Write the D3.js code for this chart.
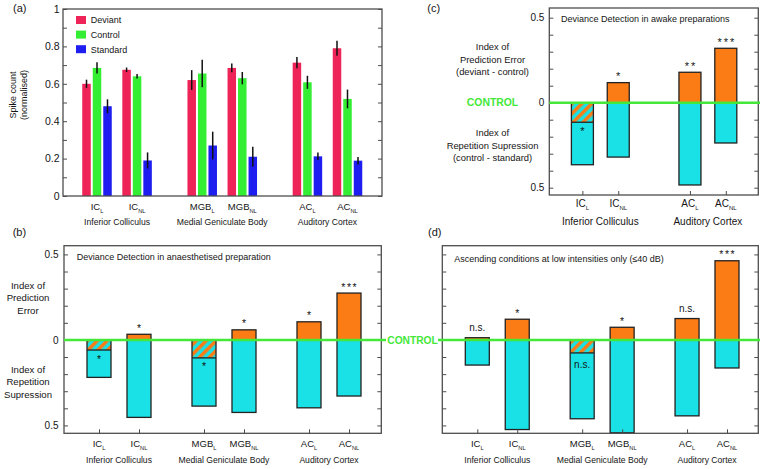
<!DOCTYPE html>
<html><head><meta charset="utf-8">
<script src="https://cdn.jsdelivr.net/npm/d3@7"></script>
<style>
body{margin:0;background:#fff;}
svg text{font-family:"Liberation Sans",Arial,Helvetica,sans-serif;fill:#151515;}
</style></head><body>
<svg id="chart" width="760" height="469"></svg>
<script>
// ---------------- DATA ----------------
const regions = ["Inferior Colliculus", "Medial Geniculate Body", "Auditory Cortex"];
const catBase = ["IC", "IC", "MGB", "MGB", "AC", "AC"];
const catSub = ["L", "NL", "L", "NL", "L", "NL"];
const catRegion = [0, 0, 1, 1, 2, 2];

// panel (a): normalised spike counts
const seriesNames = ["Deviant", "Control", "Standard"];
const deviant = [0.60, 0.675, 0.62, 0.685, 0.713, 0.79];
const deviantErr = [0.022, 0.012, 0.053, 0.023, 0.03, 0.04];
const control = [0.685, 0.64, 0.655, 0.63, 0.608, 0.519];
const controlErr = [0.03, 0.012, 0.073, 0.033, 0.035, 0.05];
const standard = [0.48, 0.19, 0.27, 0.21, 0.212, 0.189];
const standardErr = [0.037, 0.043, 0.074, 0.053, 0.02, 0.02];
const aTicks = [0, 0.2, 0.4, 0.6, 0.8, 1];

// panel (b): anaesthetised
const peB = [-0.059, 0.033, -0.105, 0.059, 0.106, 0.274];
const rsB = [0.219, 0.453, 0.387, 0.424, 0.397, 0.328];
const sigB = ["*", "*", "*", "*", "*", "***"];

// panel (c): awake (IC and AC only)
const catsC = [0, 1, 4, 5];
const peC = [-0.115, 0.118, 0.179, 0.32];
const rsC = [0.365, 0.32, 0.484, 0.237];
const sigC = ["*", "*", "**", "***"];

// panel (d): ascending, low intensities
const peD = [0.013, 0.121, -0.076, 0.074, 0.125, 0.463];
const rsD = [0.147, 0.524, 0.461, 0.543, 0.444, 0.164];
const sigD = ["n.s.", "*", "n.s.", "*", "n.s.", "***"];

const idxTicks = [-0.5, 0, 0.5];

// ---------------- STYLE ----------------
const COL = {dev: "#ee2357", ctrl: "#33ee33", std: "#1e1ef0", orange: "#fb7b14",
  cyan: "#19e1e6", green: "#44e838", frame: "#4d4d4d", outline: "#222"};

const svg = d3.select("#chart");
const defs = svg.append("defs");
const pat = defs.append("pattern").attr("id", "hatch").attr("patternUnits", "userSpaceOnUse")
  .attr("width", 7).attr("height", 7).attr("patternTransform", "rotate(45)");
pat.append("rect").attr("width", 7).attr("height", 7).attr("fill", COL.cyan);
pat.append("rect").attr("width", 3.5).attr("height", 7).attr("fill", COL.orange);

const minorTicks = d3.range(-5, 6).map(d => d / 10);

function frame(g, x0, x1, y0, y1) {
  g.append("rect").attr("x", x0).attr("y", y0).attr("width", x1 - x0).attr("height", y1 - y0)
    .attr("fill", "none").attr("stroke", COL.frame).attr("stroke-width", 1.3);
}
function styleAxis(sel, fs) {
  sel.select(".domain").remove();
  sel.selectAll(".tick line").attr("stroke", COL.frame).attr("stroke-width", 1);
  sel.selectAll(".tick text").attr("font-size", fs).attr("fill", "#151515")
    .attr("font-family", '"Liberation Sans", Arial, sans-serif');
}
function yAxes(g, y, x0, x1, tickVals, labelVals, fmt, pad, fs) {
  const isLab = d => labelVals.some(v => Math.abs(v - d) < 1e-9);
  g.append("g").attr("transform", `translate(${x0},0)`)
    .call(d3.axisLeft(y).tickValues(tickVals).tickSize(-4).tickSizeOuter(0).tickPadding(pad)
      .tickFormat(d => isLab(d) ? fmt(d) : ""))
    .call(s => styleAxis(s, fs));
  g.append("g").attr("transform", `translate(${x1},0)`)
    .call(d3.axisRight(y).tickValues(tickVals).tickSize(-4).tickSizeOuter(0).tickFormat(""))
    .call(s => styleAxis(s, fs));
}
function catLabel(g, x, yb, i, fs) {
  const t = g.append("text").attr("x", x).attr("y", yb).attr("text-anchor", "middle").attr("font-size", fs);
  t.append("tspan").text(catBase[i]);
  t.append("tspan").attr("font-size", fs * 0.6).attr("dy", 3).text(catSub[i]);
}
function groupLabels(g, xs, idx, yb, fs) {
  regions.forEach((r, k) => {
    const members = idx.map((c, j) => [c, j]).filter(([c]) => catRegion[c] === k);
    if (!members.length) return;
    const cx = d3.mean(members, ([c, j]) => xs[j]);
    g.append("text").attr("x", cx).attr("y", yb).attr("text-anchor", "middle").attr("font-size", fs).text(r);
  });
}
// layout position for category i (regions separated by a gap)
const GAP = 2.625;
const catPos = i => catRegion[i] * GAP + (i % 2);

// ---------------- PANEL A ----------------
{
  const g = svg.append("g");
  const x0 = 63, x1 = 382, y0 = 9, y1 = 196;
  const y = d3.scaleLinear().domain([0, 1]).range([y1, y0]);
  const x = d3.scaleLinear().domain([0, 6.25]).range([97, 347.5]);
  const bw = 8.5, off = 10.5;
  const series = [[deviant, deviantErr, COL.dev], [control, controlErr, COL.ctrl], [standard, standardErr, COL.std]];
  series.forEach(([vals, errs, col], s) => {
    vals.forEach((v, i) => {
      const cx = x(catPos(i)) + (s - 1) * off;
      g.append("rect").attr("x", cx - bw / 2).attr("y", y(v)).attr("width", bw).attr("height", y(0) - y(v)).attr("fill", col);
      g.append("line").attr("x1", cx).attr("x2", cx).attr("y1", y(v + errs[i])).attr("y2", y(v - errs[i]))
        .attr("stroke", "#111").attr("stroke-width", 1.5);
    });
  });
  yAxes(g, y, x0, x1, d3.range(0, 11).map(d => d / 10), aTicks, d3.format("~g"), 3.5, 10.5);
  frame(g, x0, x1, y0, y1);
  const idx = d3.range(6);
  idx.forEach(i => catLabel(g, x(catPos(i)), 209.5, i, 9.5));
  groupLabels(g, idx.map(i => x(catPos(i))), idx, 225, 8.6);
  // legend
  series.forEach(([, , col], s) => {
    g.append("rect").attr("x", 76).attr("y", 16 + s * 14.6).attr("width", 10).attr("height", 8).attr("fill", col);
    g.append("text").attr("x", 90.7).attr("y", 23.3 + s * 14.6).attr("font-size", 9).text(seriesNames[s]);
  });
  g.append("text").attr("transform", "translate(16,95) rotate(-90)").attr("text-anchor", "middle").attr("font-size", 9).text("Spike count");
  g.append("text").attr("transform", "translate(27,95) rotate(-90)").attr("text-anchor", "middle").attr("font-size", 9).text("(normalised)");
  g.append("text").attr("x", 13).attr("y", 11.5).attr("font-size", 11).text("(a)");
}

// ---------------- INDEX PANELS ----------------
function indexBars(g, xs, y, pe, rs, sig, bw, fsStar, lsStar) {
  pe.forEach((p, j) => {
    const cx = xs[j];
    const r = rs[j];
    g.append("rect").attr("x", cx - bw / 2).attr("y", y(0)).attr("width", bw).attr("height", y(-r) - y(0)).attr("fill", COL.cyan);
    if (p > 0) {
      g.append("rect").attr("x", cx - bw / 2).attr("y", y(p)).attr("width", bw).attr("height", y(0) - y(p)).attr("fill", COL.orange);
    } else {
      g.append("rect").attr("x", cx - bw / 2).attr("y", y(0)).attr("width", bw).attr("height", y(p) - y(0)).attr("fill", "url(#hatch)");
      g.append("line").attr("x1", cx - bw / 2).attr("x2", cx + bw / 2).attr("y1", y(p)).attr("y2", y(p))
        .attr("stroke", COL.outline).attr("stroke-width", 1.3);
    }
    const top = Math.max(p, 0);
    g.append("rect").attr("x", cx - bw / 2).attr("y", y(top)).attr("width", bw).attr("height", y(-r) - y(top))
      .attr("fill", "none").attr("stroke", COL.outline).attr("stroke-width", 1.3);
    const s = sig[j];
    const isStar = s.includes("*");
    let yb;
    if (p > 0) yb = y(p) - (isStar ? 2.5 : 7);
    else yb = y(p) + (isStar ? 12.5 : 15);
    if (p >= 0 && p < 0.03 && !isStar) yb = y(p) - 7;
    g.append("text").attr("x", cx + (isStar ? lsStar * 0.5 : 0)).attr("y", yb).attr("text-anchor", "middle")
      .attr("font-size", isStar ? fsStar : 10).attr("letter-spacing", isStar ? lsStar : 0).text(s);
  });
}

// ---------------- PANEL B ----------------
const yBD = d3.scaleLinear().domain([-0.546, 0.551]).range([433.3, 245.7]);
{
  const g = svg.append("g");
  const x0 = 64, x1 = 381.3, y0 = 245.7, y1 = 433.3;
  const y = yBD;
  const x = d3.scaleLinear().domain([0, 6.25]).range([99, 349]);
  const idx = d3.range(6);
  const xs = idx.map(i => x(catPos(i)));
  indexBars(g, xs, y, peB, rsB, sigB, 24, 10.5, 1.5);
  yAxes(g, y, x0, x1, minorTicks, idxTicks, d => d3.format("~g")(Math.abs(d)), 5.5, 10);
  g.append("g").attr("transform", `translate(0,${y1})`)
    .call(d3.axisBottom(x).tickValues(idx.map(catPos)).tickSize(-4).tickSizeOuter(0).tickFormat(""))
    .call(s => styleAxis(s, 9));
  frame(g, x0, x1, y0, y1);
  g.append("line").attr("x1", x0).attr("x2", 386).attr("y1", y(0)).attr("y2", y(0)).attr("stroke", COL.green).attr("stroke-width", 2.5);
  idx.forEach(i => catLabel(g, xs[i], 446.5, i, 9.5));
  groupLabels(g, xs, idx, 462.5, 8.6);
  g.append("text").attr("x", 76.7).attr("y", 260.2).attr("font-size", 9).text("Deviance Detection in anaesthetised preparation");
  const lab = (t, yy) => g.append("text").attr("x", 28).attr("y", yy).attr("text-anchor", "middle").attr("font-size", 9.6).text(t);
  lab("Index of", 288.5); lab("Prediction", 301.2); lab("Error", 313.8);
  lab("Index of", 372.5); lab("Repetition", 385.2); lab("Supression", 397.8);
  g.append("text").attr("x", 12.7).attr("y", 236).attr("font-size", 11).text("(b)");
  svg.append("text").attr("x", 412.5).attr("y", y(0) + 3.8).attr("text-anchor", "middle").attr("font-size", 10.2)
    .attr("font-weight", "bold").style("fill", COL.green).text("CONTROL");
}

// ---------------- PANEL C ----------------
{
  const g = svg.append("g");
  const x0 = 549.3, x1 = 758.3, y0 = 8, y1 = 195;
  const y = d3.scaleLinear().domain([-0.543, 0.557]).range([y1, y0]);
  const x = d3.scaleLinear().domain([0, 4]).range([582.4, 725.8]);
  const slot = [0, 1, 3, 4];
  const xs = slot.map(s => x(s));
  indexBars(g, xs, y, peC, rsC, sigC, 22, 11, 2);
  yAxes(g, y, x0, x1, minorTicks, idxTicks, d => d3.format("~g")(Math.abs(d)), 5, 10);
  g.append("g").attr("transform", `translate(0,${y1})`)
    .call(d3.axisBottom(x).tickValues(slot).tickSize(-4).tickSizeOuter(0).tickFormat(""))
    .call(s => styleAxis(s, 9));
  frame(g, x0, x1, y0, y1);
  g.append("line").attr("x1", x0).attr("x2", 760).attr("y1", y(0)).attr("y2", y(0)).attr("stroke", COL.green).attr("stroke-width", 2.5);
  catsC.forEach((c, j) => catLabel(g, xs[j], 207, c, 10));
  groupLabels(g, xs, catsC, 225, 10);
  g.append("text").attr("x", 561).attr("y", 22).attr("font-size", 9).text("Deviance Detection in awake preparations");
  const lab = (t, yy) => g.append("text").attr("x", 492.5).attr("y", yy).attr("text-anchor", "middle").attr("font-size", 9.4).text(t);
  lab("Index of", 50); lab("Prediction Error", 62.6); lab("(deviant - control)", 75);
  lab("Index of", 135.6); lab("Repetition Supression", 148.6); lab("(control - standard)", 161);
  g.append("text").attr("x", 492.5).attr("y", y(0) + 3.8).attr("text-anchor", "middle").attr("font-size", 10.4)
    .attr("font-weight", "bold").style("fill", COL.green).text("CONTROL");
  g.append("text").attr("x", 427.3).attr("y", 11.5).attr("font-size", 11).text("(c)");
}

// ---------------- PANEL D ----------------
{
  const g = svg.append("g");
  const x0 = 442.3, x1 = 758.3, y0 = 245.7, y1 = 433.3;
  const y = yBD;
  const x = d3.scaleLinear().domain([0, 6.25]).range([477.3, 727]);
  const idx = d3.range(6);
  const xs = idx.map(i => x(catPos(i)));
  indexBars(g, xs, y, peD, rsD, sigD, 24, 10.5, 1.5);
  yAxes(g, y, x0, x1, minorTicks, [], d => "", 5, 10);
  g.append("g").attr("transform", `translate(0,${y1})`)
    .call(d3.axisBottom(x).tickValues(idx.map(catPos)).tickSize(-4).tickSizeOuter(0).tickFormat(""))
    .call(s => styleAxis(s, 9));
  frame(g, x0, x1, y0, y1);
  g.append("line").attr("x1", 438).attr("x2", 760).attr("y1", y(0)).attr("y2", y(0)).attr("stroke", COL.green).attr("stroke-width", 2.5);
  idx.forEach(i => catLabel(g, xs[i], 446.5, i, 9.5));
  groupLabels(g, xs, idx, 462.5, 8.6);
  g.append("text").attr("x", 454.3).attr("y", 261.5).attr("font-size", 9).text("Ascending conditions at low intensities only (\u226440 dB)");
  g.append("text").attr("x", 428).attr("y", 236).attr("font-size", 11).text("(d)");
}
</script>
</body></html>
